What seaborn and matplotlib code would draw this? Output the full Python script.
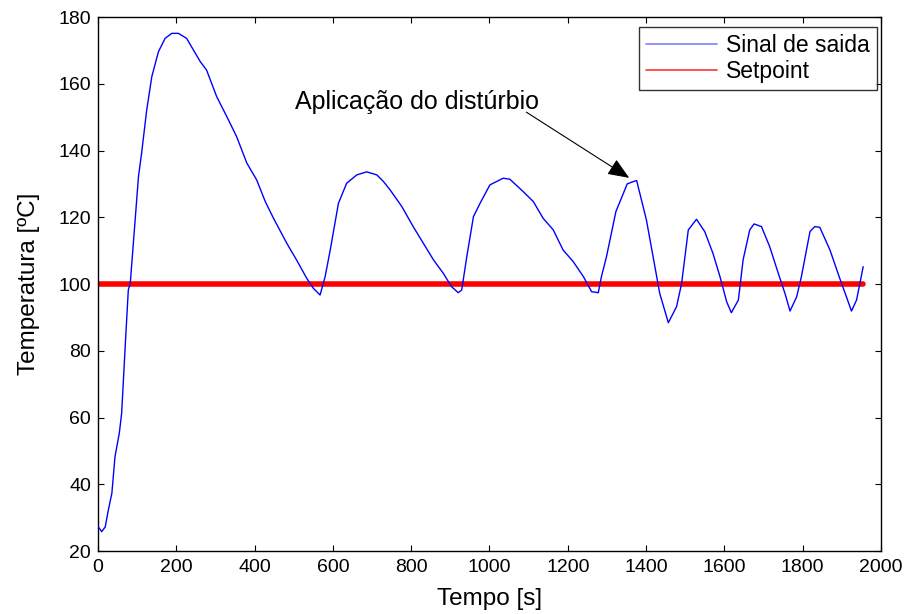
import matplotlib
matplotlib.use("Agg")
import matplotlib.pyplot as plt
import seaborn as sns
import pandas as pd
from matplotlib.lines import Line2D

# Data
tempo = [0, 9, 18, 26, 35, 43, 54, 60, 69, 77, 82, 103, 111, 124, 137, 154, 171, 188, 205,
         226, 261, 277, 303, 329, 354, 380, 405, 427, 448, 482, 507, 533, 550, 567, 580,
         593, 614, 635, 661, 686, 712, 729, 746, 776, 805, 831, 857, 882, 903, 920, 929,
         942, 959, 976, 1001, 1035, 1052, 1086, 1112, 1137, 1163, 1188, 1214, 1240, 1261,
         1278, 1286, 1299, 1323, 1352, 1363, 1376, 1401, 1418, 1435, 1457, 1478, 1491,
         1508, 1529, 1550, 1571, 1589, 1606, 1618, 1636, 1648, 1665, 1676, 1695, 1716,
         1738, 1755, 1768, 1785, 1797, 1819, 1831, 1844, 1870, 1895, 1912, 1925, 1938, 1955]
saida = [27.3, 25.8, 27.2, 32.3, 37.3, 48.3, 55.3, 61.3, 81.2, 98.2, 100.2, 132.2, 139.2,
         152.1, 162.1, 169.6, 173.6, 175.1, 175.1, 173.6, 166.6, 164.1, 156.1, 150.1,
         144.1, 136.2, 131.2, 124.7, 119.7, 112.2, 107.2, 101.7, 98.7, 96.7, 102.2, 110.2,
         124.2, 130.2, 132.7, 133.6, 132.7, 130.7, 128.2, 123.2, 117.2, 112.2, 107.2,
         103.2, 99.2, 97.4, 98.2, 108.2, 120.2, 124.2, 129.7, 131.7, 131.4, 127.7, 124.7,
         119.7, 116.2, 110.2, 106.7, 102.2, 97.7, 97.4, 102.2, 108.2, 121.7, 130.0, 130.5,
         131.0, 119.2, 108.2, 97.2, 88.4, 93.2, 100.2, 116.2, 119.4, 115.7, 109.2, 102.2,
         94.7, 91.4, 95.2, 107.2, 116.2, 118.0, 117.2, 111.2, 103.2, 97.2, 91.9, 96.2,
         102.2, 115.7, 117.2, 117.0, 110.2, 101.7, 96.2, 91.9, 95.2, 105.2]
setpoint_t = [0, 1955]
setpoint_v = [100, 100]

x_ticks = list(range(0, 2001, 200))
y_ticks = list(range(20, 181, 20))

sns.set_theme(style="white")
plt.rcParams["font.family"] = ["Liberation Sans", "DejaVu Sans"]
plt.rcParams["text.color"] = "black"
plt.rcParams["axes.labelcolor"] = "black"

fig = plt.figure(figsize=(9.09, 6.14), dpi=100)
ax = fig.add_axes([0.108, 0.1026, 0.861, 0.8697])

df_out = pd.DataFrame({"t": tempo, "v": saida})
df_sp = pd.DataFrame({"t": setpoint_t, "v": setpoint_v})

sns.lineplot(data=df_out, x="t", y="v", ax=ax, color="#0000ff", linewidth=1.0, zorder=3)
sns.lineplot(data=df_sp, x="t", y="v", ax=ax, color="#ff0000", linewidth=4.0, zorder=2)

ax.set_xlim(0, 2000)
ax.set_ylim(20, 180)
ax.set_xticks(x_ticks)
ax.set_yticks(y_ticks)
ax.tick_params(direction="in", length=4, width=0.8, top=True, right=True,
               bottom=True, left=True, labelsize=14, colors="black")
ax.tick_params(axis="x", pad=6)
ax.tick_params(axis="y", pad=5)
for s in ax.spines.values():
    s.set_color("black")
    s.set_linewidth(1.0)
    s.set_visible(True)

ax.set_xlabel("Tempo [s]", fontsize=17.5, color="black")
ax.set_ylabel("Temperatura [ºC]", fontsize=17.5, color="black")
ax.xaxis.set_label_coords(0.5, -0.069)
ax.yaxis.set_label_coords(-0.074, 0.5)

handles = [Line2D([], [], color="#7f7fff", lw=1.2), Line2D([], [], color="#ff3333", lw=1.2)]
leg = ax.legend(handles, ["Sinal de saida", "Setpoint"], loc="upper right",
                bbox_to_anchor=(0.9949, 0.981), fontsize=16.5, frameon=True, fancybox=False,
                edgecolor="black", borderaxespad=0.0, handlelength=3.1, handletextpad=0.4,
                borderpad=0.3, labelspacing=0.12, labelcolor="black")
leg.get_frame().set_linewidth(1.0)

ax.text(503, 154.5, "Aplicação do distúrbio", fontsize=18, va="center", ha="left",
        color="black")
ax.annotate("", xy=(1357, 131.8), xytext=(1094, 151.5),
            arrowprops=dict(arrowstyle="-|>,head_length=1.1,head_width=0.45", color="black",
                            lw=0.8, shrinkA=0, shrinkB=0))

fig.savefig("out.png", dpi=100)
